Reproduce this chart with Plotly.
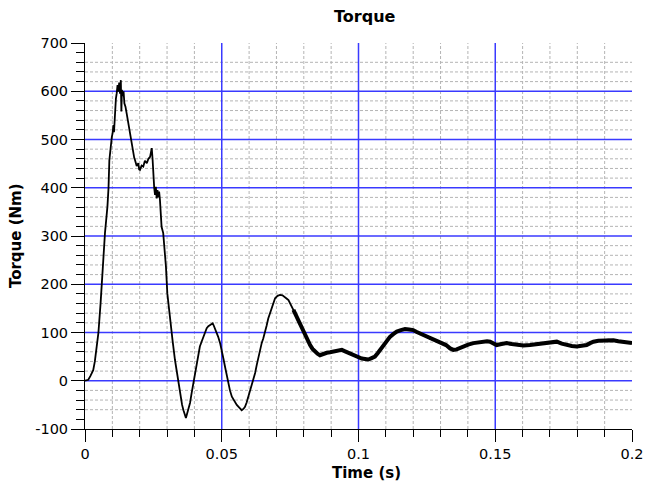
import plotly.graph_objects as go

# ---- data ----
time_s = [0.0000, 0.0012, 0.0020, 0.0024, 0.0030, 0.0036, 0.0040, 0.0049, 0.0057, 0.0065,
          0.0073, 0.0082, 0.0086, 0.0089, 0.0094, 0.0098, 0.0101, 0.0104, 0.0106, 0.0108,
          0.0110, 0.0113, 0.0116, 0.0119, 0.0122, 0.0125, 0.0128, 0.0131, 0.0133, 0.0135,
          0.0138, 0.0141, 0.0144, 0.0148, 0.0152, 0.0158, 0.0165, 0.0171, 0.0177, 0.0180,
          0.0183, 0.0189, 0.0195, 0.0198, 0.0201, 0.0207, 0.0213, 0.0219, 0.0226, 0.0232,
          0.0238, 0.0244, 0.0247, 0.0250, 0.0253, 0.0256, 0.0259, 0.0262, 0.0265, 0.0268,
          0.0271, 0.0274, 0.0280, 0.0286, 0.0292, 0.0296, 0.0301, 0.0308, 0.0313, 0.0320,
          0.0329, 0.0335, 0.0341, 0.0350, 0.0355, 0.0360, 0.0366, 0.0369, 0.0374, 0.0379,
          0.0384, 0.0390, 0.0396, 0.0402, 0.0408, 0.0414, 0.0420, 0.0427, 0.0433, 0.0439,
          0.0445, 0.0451, 0.0457, 0.0462, 0.0467, 0.0471, 0.0475, 0.0481, 0.0487, 0.0494,
          0.0500, 0.0506, 0.0512, 0.0518, 0.0524, 0.0530, 0.0537, 0.0545, 0.0555, 0.0565,
          0.0573, 0.0580, 0.0585, 0.0591, 0.0597, 0.0603, 0.0609, 0.0616, 0.0622, 0.0628,
          0.0634, 0.0640, 0.0646, 0.0652, 0.0658, 0.0664, 0.0670, 0.0677, 0.0683, 0.0689,
          0.0695, 0.0704, 0.0713, 0.0722, 0.0731, 0.0738, 0.0744, 0.0750, 0.0756, 0.0762,
          0.0768, 0.0774, 0.0780, 0.0789, 0.0798, 0.0810, 0.0817, 0.0823, 0.0832, 0.0841,
          0.0850, 0.0859, 0.0871, 0.0884, 0.0896, 0.0908, 0.0924, 0.0939, 0.0951, 0.0963,
          0.0975, 0.0987, 0.1000, 0.1012, 0.1024, 0.1036, 0.1048, 0.1060, 0.1070, 0.1079,
          0.1088, 0.1097, 0.1106, 0.1115, 0.1128, 0.1140, 0.1155, 0.1170, 0.1185, 0.1200,
          0.1213, 0.1225, 0.1237, 0.1249, 0.1261, 0.1273, 0.1289, 0.1304, 0.1320, 0.1335,
          0.1347, 0.1359, 0.1371, 0.1383, 0.1401, 0.1420, 0.1438, 0.1456, 0.1470, 0.1481,
          0.1493, 0.1505, 0.1523, 0.1542, 0.1560, 0.1578, 0.1603, 0.1627, 0.1652, 0.1676,
          0.1700, 0.1725, 0.1743, 0.1761, 0.1780, 0.1798, 0.1816, 0.1834, 0.1847, 0.1859,
          0.1877, 0.1895, 0.1914, 0.1932, 0.1950, 0.1968, 0.2000]

torque_nm = [0, 2, 10, 15, 22, 40, 57, 99, 161, 236,
             306, 361, 400, 457, 492, 505, 513, 530, 515, 545,
             561, 585, 596, 613, 599, 618, 595, 623, 558, 603,
             590, 600, 575, 568, 555, 535, 513, 485, 472, 462,
             457, 445, 451, 438, 437, 446, 444, 456, 451, 460,
             464, 482, 460, 423, 400, 385, 402, 378, 395, 380,
             392, 375, 319, 306, 271, 236, 181, 140, 110, 84,
             43, 20, -5, -40, -50, -61, -74, -77, -67, -58,
             -46, -25, -5, 15, 37, 55, 71, 82, 91, 101,
             109, 113, 115, 118, 119, 114, 109, 100, 91, 78,
             64, 46, 29, 12, -5, -20, -33, -42, -50, -56,
             -61, -58, -54, -45, -33, -22, -12, 2, 16, 33,
             50, 64, 78, 88, 99, 114, 129, 142, 153, 163,
             171, 176, 178, 177, 174, 170, 167, 160, 154, 147,
             140, 133, 122, 113, 105, 88, 80, 74, 66, 60,
             56, 53, 56, 58, 59, 60, 62, 64, 61, 58,
             54, 51, 48, 46, 45, 44, 47, 50, 57, 64,
             71, 78, 85, 91, 97, 102, 105, 107, 106, 105,
             101, 98, 94, 91, 87, 84, 81, 78, 74, 67,
             64, 65, 68, 71, 75, 78, 80, 81, 82, 81,
             78, 74, 76, 78, 76, 74, 73, 74, 76, 78,
             79, 81, 77, 74, 72, 71, 72, 74, 78, 81,
             83, 84, 85, 84, 82, 81, 78]

x_tick_vals = [0, 0.05, 0.1, 0.15, 0.2]
x_tick_text = ["0", "0.05", "0.1", "0.15", "0.2"]
y_tick_vals = [-100, 0, 100, 200, 300, 400, 500, 600, 700]
y_tick_text = ["-100", "0", "100", "200", "300", "400", "500", "600", "700"]

# grid positions
x_major_grid = [0.05, 0.1, 0.15]
x_minor_grid = [0.01, 0.02, 0.03, 0.04, 0.06, 0.07, 0.08, 0.09, 0.11, 0.12,
                0.13, 0.14, 0.16, 0.17, 0.18, 0.19]
y_major_grid = [0, 100, 200, 300, 400, 500, 600]
y_minor_grid = [-60, -40, -20, 20, 40, 60, 80, 120, 140, 160, 180, 220, 240, 260, 280,
                320, 340, 360, 380, 420, 440, 460, 480, 520, 540, 560, 580, 620, 640, 660]

noisy_from = 0.076

FONT = "DejaVu Sans, Verdana, sans-serif"
MINOR_COLOR = "#b4b4b4"
MAJOR_COLOR = "#3a3aff"

fig = go.Figure()

fig.add_trace(go.Scatter(x=time_s, y=torque_nm, mode="lines",
                         line=dict(color="black", width=1.8), showlegend=False,
                         hoverinfo="x+y"))
idx = [i for i, t in enumerate(time_s) if t >= noisy_from]
fig.add_trace(go.Scatter(x=[time_s[i] for i in idx], y=[torque_nm[i] for i in idx],
                         mode="lines", line=dict(color="black", width=4),
                         showlegend=False, hoverinfo="skip"))

shapes = []
for v in x_minor_grid:
    shapes.append(dict(type="line", xref="x", yref="paper", x0=v, x1=v, y0=0, y1=1,
                       line=dict(color=MINOR_COLOR, width=1, dash="3px,2px"), layer="below"))
for v in y_minor_grid:
    shapes.append(dict(type="line", xref="paper", yref="y", x0=0, x1=1, y0=v, y1=v,
                       line=dict(color=MINOR_COLOR, width=1, dash="3px,2px"), layer="below"))
for v in x_major_grid:
    shapes.append(dict(type="line", xref="x", yref="paper", x0=v, x1=v, y0=0, y1=1,
                       line=dict(color=MAJOR_COLOR, width=1.5), layer="below"))
for v in y_major_grid:
    shapes.append(dict(type="line", xref="paper", yref="y", x0=0, x1=1, y0=v, y1=v,
                       line=dict(color=MAJOR_COLOR, width=1.5), layer="below"))

annotations = [
    dict(text="<b>Torque</b>", xref="paper", yref="paper", x=0.512, y=1.068,
         xanchor="center", yanchor="middle", showarrow=False,
         font=dict(family=FONT, size=16, color="black")),
    dict(text="<b>Time (s)</b>", xref="paper", yref="paper", x=0.514, y=-0.114,
         xanchor="center", yanchor="middle", showarrow=False,
         font=dict(family=FONT, size=15, color="black")),
    dict(text="<b>Torque (Nm)</b>", xref="paper", yref="paper", x=-0.126, y=0.5,
         xanchor="center", yanchor="middle", showarrow=False, textangle=-90,
         font=dict(family=FONT, size=15, color="black")),
]

fig.update_layout(
    width=645, height=490,
    margin=dict(l=85, r=13, t=43, b=61, autoexpand=False),
    paper_bgcolor="white", plot_bgcolor="white",
    font=dict(family=FONT, size=14, color="black"),
    shapes=shapes,
    annotations=annotations,
)

fig.update_xaxes(
    range=[0, 0.2], tickmode="array", tickvals=x_tick_vals, ticktext=x_tick_text,
    ticks="outside", ticklen=12, tickwidth=1, tickcolor="black",
    showline=True, linecolor="black", linewidth=1,
    showgrid=False, zeroline=False, automargin=False,
    tickfont=dict(family=FONT, size=14.5),
    minor=dict(tickmode="linear", tick0=0, dtick=0.01, ticks="outside", ticklen=7,
               tickcolor="black", tickwidth=1, showgrid=False),
)
fig.update_yaxes(
    range=[-100, 700], tickmode="array", tickvals=y_tick_vals, ticktext=y_tick_text,
    ticks="outside", ticklen=13, tickwidth=1, tickcolor="black",
    showline=True, linecolor="black", linewidth=1,
    showgrid=False, zeroline=False, automargin=False,
    tickfont=dict(family=FONT, size=14.5),
    minor=dict(tickmode="linear", tick0=0, dtick=20, ticks="outside", ticklen=8,
               tickcolor="black", tickwidth=1, showgrid=False),
)

# remove the page's default body margin so the 645x490 figure fills the window exactly
fig.write_html("out.html",
               config={"displayModeBar": False},
               post_script="document.body.style.margin='0';document.body.style.overflow='hidden';")
